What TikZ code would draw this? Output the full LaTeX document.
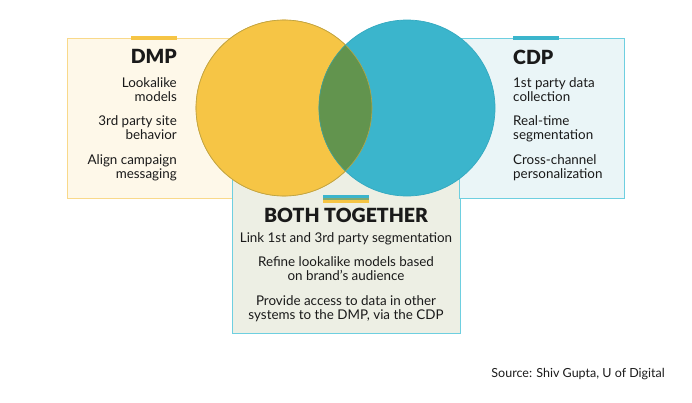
\documentclass[tikz,border=0pt]{standalone}
\usepackage{fontspec}
\setmainfont{Lato}
\newfontfamily\heavyfont{Lato Black}
\usetikzlibrary{positioning}
\definecolor{ink}{HTML}{1A1A1A}
\definecolor{dmpyellow}{HTML}{F6C545}
\definecolor{dmpedge}{HTML}{EFB03F}
\definecolor{cdpcyan}{HTML}{3BB5CC}
\definecolor{cdpedge}{HTML}{34A9C0}
\definecolor{lensgreen}{HTML}{62944E}
\definecolor{creamfill}{HTML}{FEF8E9}
\definecolor{creamedge}{HTML}{F9D98A}
\definecolor{icefill}{HTML}{EAF5F7}
\definecolor{iceedge}{HTML}{6ECFE0}
\definecolor{sagefill}{HTML}{EDEFE4}

\begin{document}
\begin{tikzpicture}[
      x=1pt, y=-1pt,
      panel/.style={rectangle, draw, line width=1pt, inner sep=0pt, anchor=north west},
      ring/.style={circle, minimum size=176pt, inner sep=0pt, line width=0.7pt},
      bar/.style={rectangle, minimum width=46pt, minimum height=4pt, inner sep=0pt},
      title/.style={font=\fontsize{19.5}{19.5}\heavyfont, inner sep=0pt, text=ink},
      items/.style={font=\fontsize{13.4}{14}\selectfont, inner sep=0pt, text=ink},
      source/.style={font=\fontsize{12.5}{14}\selectfont, inner sep=0pt, text=ink}
    ]
      \useasboundingbox (0,0) rectangle (692,402);

      \node[panel, fill=creamfill, draw=creamedge, minimum width=233pt, minimum height=160pt] (dmpbox) at (67,38) {};
      \node[panel, fill=sagefill, draw=iceedge, minimum width=228pt, minimum height=183pt] (bothbox) at (232,150) {};
      \node[panel, fill=icefill, draw=iceedge, minimum width=165pt, minimum height=160pt] (cdpbox) at (459,38) {};

      \node[ring, fill=dmpyellow, draw=dmpedge] (dmpcircle) at (284,108) {};
      \node[ring, fill=cdpcyan, draw=cdpedge] (cdpcircle) at (407,108) {};
      \begin{scope}
        \clip (dmpcircle.center) circle (88pt);
        \fill[lensgreen] (cdpcircle.center) circle (88pt);
      \end{scope}
      \draw[dmpedge!60!lensgreen, line width=0.6pt] (dmpcircle.center) circle (88pt);
      \begin{scope}
        \clip (dmpcircle.center) circle (88pt);
        \draw[cdpedge!50!lensgreen, line width=0.6pt] (cdpcircle.center) circle (88pt);
      \end{scope}

      \node[bar, fill=dmpyellow] (dmpbar) at (154,38) {};
      \node[bar, fill=cdpcyan] (cdpbar) at (536,38) {};
      \node[bar, fill=cdpcyan, minimum height=3pt] (bothbar1) at (346,196.5) {};
      \node[bar, fill=lensgreen!80, minimum height=1.5pt, below=0pt of bothbar1] (bothbar2) {};
      \node[bar, fill=dmpyellow, minimum height=3pt, below=0pt of bothbar2] (bothbar3) {};

      \node[title, anchor=base east] (dmp) at (177,63) {DMP};
      \node[items, align=right, below left=14pt and 0pt of dmp.south east] (dmpitems)
        {Lookalike\\models\\[10.4pt]3rd party site\\behavior\\[10.4pt]Align campaign\\messaging};

      \node[title, anchor=base west] (cdp) at (513,64) {CDP};
      \node[items, align=left, below right=13pt and 0pt of cdp.south west] (cdpitems)
        {1st party data\\collection\\[10.4pt]Real-time\\segmentation\\[10.4pt]Cross-channel\\personalization};

      \node[title, font=\fontsize{19.5}{19.5}\heavyfont, anchor=base] (both) at (346,222.5) {BOTH TOGETHER};
      \node[items, align=center, below=9.6pt of both.south] (bothitems)
        {Link 1st and 3rd party segmentation\\[10.4pt]Refine lookalike models based\\on brand's audience\\[10.4pt]Provide access to data in other\\systems to the DMP, via the CDP};

      \node[source, anchor=base east] (src) at (665,377) {Source: Shiv Gupta, U of Digital};
    \end{tikzpicture}
\end{document}
